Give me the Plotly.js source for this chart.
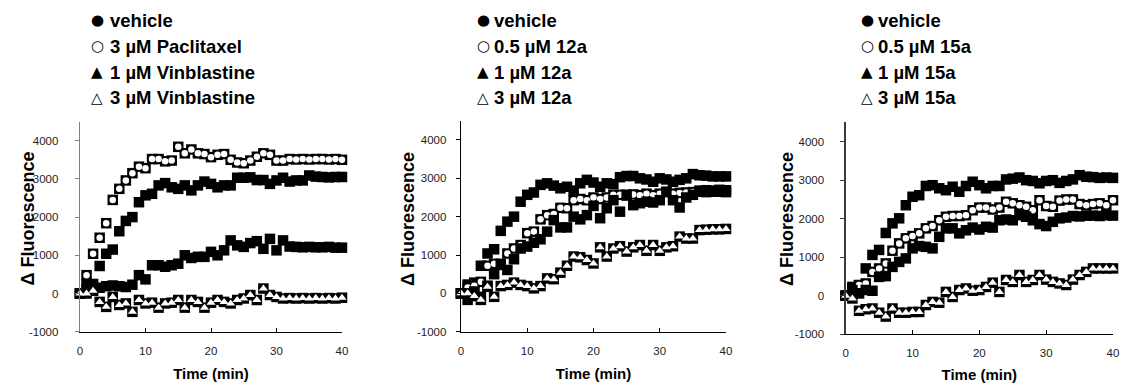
<!DOCTYPE html>
<html><head><meta charset="utf-8">
<script src="https://cdn.plot.ly/plotly-3.0.1.min.js"></script>
<style>html,body{margin:0;padding:0;background:#fff}#chart{width:1123px;height:383px}</style>
</head><body><div id="chart"></div>
<script>
// time points (min)
const time = [0,1,2,3,4,5,6,7,8,9,10,11,12,13,14,15,16,17,18,19,20,21,22,23,24,25,26,27,28,29,30,31,32,33,34,35,36,37,38,39,40];

// Panel 1: Paclitaxel / Vinblastine
const p1_vehicle = [0,250,250,720,1040,1150,1630,1900,2000,2390,2570,2610,2830,2890,2780,2740,2830,2700,2830,2930,2870,2780,2830,2830,3030,3030,3040,2970,2970,2870,2960,3030,2930,2960,2960,3090,3060,3050,3040,3050,3050];
const p1_pac = [0,480,1040,1460,1840,2450,2740,2960,3150,3320,3280,3520,3520,3460,3480,3840,3670,3770,3670,3650,3570,3630,3650,3500,3430,3410,3480,3580,3670,3630,3480,3480,3520,3510,3520,3510,3520,3520,3510,3520,3500];
const p1_vin1 = [0,130,160,150,190,210,190,170,230,480,370,740,740,700,740,780,1000,930,960,960,1090,1000,1130,1390,1260,1220,1320,1370,1170,1430,1130,1390,1230,1220,1210,1220,1210,1210,1220,1200,1200];
const p1_vin3 = [0,0,70,-220,-350,-90,-300,-260,-480,-170,-260,-240,-370,-260,-240,-170,-370,-170,-220,-370,-240,-170,-220,-260,-170,-130,-40,-170,130,-40,-90,-130,-120,-130,-120,-130,-120,-130,-120,-130,-110];

// Panel 2: 12a
const p2_vehicle = [0,230,280,720,1040,1150,1630,1870,2000,2390,2570,2630,2830,2870,2810,2740,2780,2680,2870,2960,2890,2780,2870,2850,3030,3060,3060,3000,2970,2910,3000,2970,2910,2960,3000,3110,3080,3070,3050,3050,3050];
const p2_12a_05 = [0,150,200,300,720,770,740,1040,1170,1260,1570,1610,1930,2040,2070,2230,2220,2430,2460,2430,2500,2460,2500,2570,2570,2550,2580,2560,2600,2560,2600,2640,2600,2620,2630,2640,2650,2640,2650,2650,2640];
const p2_12a_1 = [0,-170,50,-90,200,500,770,610,890,1170,1220,1320,1410,1610,1910,1720,1720,2000,1930,2040,2280,1960,2220,2430,2130,2570,2300,2350,2390,2370,2430,2650,2430,2240,2500,2570,2680,2690,2680,2700,2690];
const p2_12a_3 = [0,0,-70,-170,170,-90,190,220,280,220,190,130,190,390,370,540,720,960,940,870,780,1200,960,1170,1230,1090,1200,1260,1110,1260,1110,1200,1230,1480,1430,1430,1650,1660,1670,1670,1680];

// Panel 3: 15a
const p3_vehicle = [0,230,270,710,1060,1190,1630,1880,2010,2350,2570,2610,2850,2870,2790,2740,2830,2700,2850,2960,2870,2790,2850,2850,3020,3040,3070,3000,2980,2920,2980,3000,2930,2980,3020,3130,3090,3080,3060,3070,3060];
const p3_15a_05 = [0,190,280,320,620,710,840,1170,1360,1490,1550,1620,1750,1810,1960,2050,2070,2070,2090,2220,2290,2290,2240,2290,2440,2400,2350,2310,2220,2480,2330,2310,2470,2500,2500,2380,2350,2380,2400,2350,2480];
const p3_15a_1 = [0,150,60,150,130,490,510,750,880,970,1230,1290,1270,1230,1530,1750,1750,1620,1700,1770,1720,1790,1770,1960,1980,1960,2090,2050,1960,1860,1810,1920,2010,2030,2070,2060,2080,2080,2070,2090,2080];
const p3_15a_3 = [0,-70,-390,-350,-330,-440,-540,-330,-440,-440,-420,-420,-240,-160,-180,100,-30,150,190,130,150,230,340,100,410,360,540,360,410,540,420,360,320,280,420,540,620,710,710,710,710];

// Legend labels and symbols
const legend1 = ["vehicle","3 µM Paclitaxel","1 µM Vinblastine","3 µM Vinblastine"];
const legend2 = ["vehicle","0.5 µM 12a","1 µM 12a","3 µM 12a"];
const legend3 = ["vehicle","0.5 µM 15a","1 µM 15a","3 µM 15a"];
const legendSymbols = ["●","○","▲","△"];

// Axis ticks
const xTickVals = [0,10,20,30,40];
const xTickText = ["0","10","20","30","40"];
const yTickVals = [-1000,0,1000,2000,3000,4000];
const yTickText = ["-1000","0","1000","2000","3000","4000"];
const xTitle = "Time (min)";
const yTitle = "Δ Fluorescence";

const W = 1123, H = 383;
const panels = [
  {series:[p1_vehicle,p1_pac,p1_vin1,p1_vin3], labels:legend1, x0:80, x1:342, yTop:121.6, yBot:331.7, ylc:'#808080', symX:97, txtX:108, ytX:27.5, tso:14},
  {series:[p2_vehicle,p2_12a_05,p2_12a_1,p2_12a_3], labels:legend2, x0:461, x1:726, yTop:120.8, yBot:331.7, ylc:'#000000', symX:483, txtX:492, ytX:408, tso:7},
  {series:[p3_vehicle,p3_15a_05,p3_15a_1,p3_15a_3], labels:legend3, x0:845.7, x1:1113, yTop:122.4, yBot:334.3, ylc:'#3a3a3a', symX:867, txtX:876, ytX:787, tso:14}
];
const innerSymbol = [null,'circle',null,'triangle-up'];
const innerSize = [0,6.5,0,8];
const rowY = [20,46,72,98];

const traces = [];
const layout = {
  width:W, height:H, margin:{l:0,r:0,t:0,b:0},
  paper_bgcolor:'#fff', plot_bgcolor:'rgba(0,0,0,0)',
  showlegend:false, annotations:[]
};
const tickFont = {family:'Liberation Sans, Arial, sans-serif', size:11.5, color:'#222'};
const titleFont = {family:'Liberation Sans, Arial, sans-serif', weight:'bold', color:'#000'};

panels.forEach((p,i)=>{
  const n = i===0 ? '' : String(i+1);
  const xa = 'x'+n, ya = 'y'+n;
  p.series.forEach((s,k)=>{
    traces.push({x:time, y:s, xaxis:xa, yaxis:ya, type:'scatter', mode:'markers', cliponaxis:false, hoverinfo:'skip',
      marker:{symbol:'square', size:10.5, color:'#000', line:{width:0}}});
    if (innerSymbol[k]) {
      traces.push({x:time, y:s, xaxis:xa, yaxis:ya, type:'scatter', mode:'markers', cliponaxis:false, hoverinfo:'skip',
        marker:{symbol:innerSymbol[k], size:innerSize[k], color:'#fff', line:{width:0}}});
    }
  });
  layout['xaxis'+n] = {
    domain:[p.x0/W, p.x1/W], anchor:ya, range:[0,40], fixedrange:true,
    tickvals:xTickVals, ticktext:xTickText, ticks:'inside', ticklen:4, tickcolor:'#000', tickwidth:1,
    showline:true, linecolor:'#000', linewidth:1, showgrid:false, zeroline:false,
    tickfont:tickFont, ticklabelstandoff:8,
    title:{text:xTitle, font:Object.assign({size:15}, titleFont), standoff:12}
  };
  layout['yaxis'+n] = {
    domain:[1-p.yBot/H, 1-p.yTop/H], anchor:xa, range:[-1000,4500], fixedrange:true,
    tickvals:yTickVals, ticktext:yTickText, ticks:'outside', ticklen:4, tickcolor:p.ylc, tickwidth:1,
    showline:true, linecolor:p.ylc, linewidth:1.3, showgrid:false, zeroline:false,
    tickfont:tickFont, ticklabelstandoff:p.tso
  };
  // y-axis title placed as a rotated text annotation
  layout.annotations.push({xref:'paper', yref:'paper', x:p.ytX/W, y:1-219/H, xanchor:'center', yanchor:'middle',
    textangle:-90, text:yTitle, showarrow:false, font:Object.assign({size:18}, titleFont)});
  p.labels.forEach((lab,k)=>{
    layout.annotations.push({xref:'paper', yref:'paper', x:p.symX/W, y:1-rowY[k]/H, xanchor:'center', yanchor:'middle',
      text:legendSymbols[k], showarrow:false, font:{family:'DejaVu Sans', size:15, color:'#000'}});
    layout.annotations.push({xref:'paper', yref:'paper', x:p.txtX/W, y:1-rowY[k]/H, xanchor:'left', yanchor:'middle',
      text:lab, showarrow:false, font:{family:'Liberation Sans, Arial, sans-serif', size:18.5, weight:'bold', color:'#000'}});
  });
});

Plotly.newPlot('chart', traces, layout, {displayModeBar:false, staticPlot:true});
</script>
</body></html>
